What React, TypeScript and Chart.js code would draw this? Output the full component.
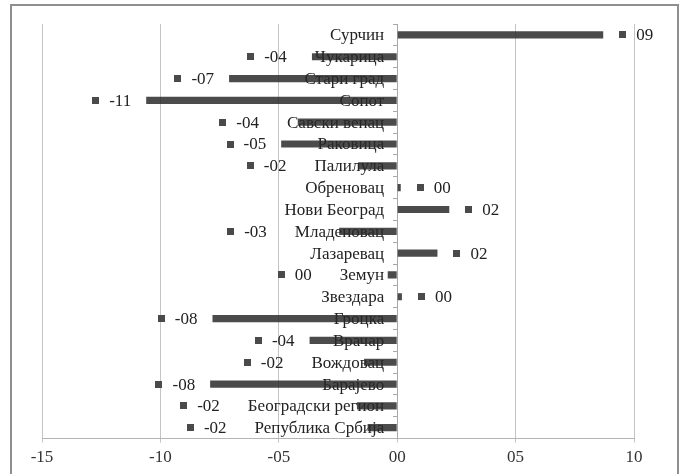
import React, { useEffect, useRef } from "react";
import { Chart, registerables } from "chart.js";

Chart.register(...registerables);

const categories: string[] = [
  "Сурчин",
  "Чукарица",
  "Стари град",
  "Сопот",
  "Савски венац",
  "Раковица",
  "Палилула",
  "Обреновац",
  "Нови Београд",
  "Младеновац",
  "Лазаревац",
  "Земун",
  "Звездара",
  "Гроцка",
  "Врачар",
  "Вождовац",
  "Барајево",
  "Београдски регион",
  "Република Србија",
];

const values: number[] = [
  8.7, -3.6, -7.1, -10.6, -4.2, -4.9, -1.65, 0.15, 2.2, -2.45, 1.7, -0.4, 0.2,
  -7.8, -3.7, -1.4, -7.9, -1.7, -1.25,
];

const dataLabels: string[] = [
  "09", "-04", "-07", "-11", "-04", "-05", "-02", "00", "02", "-03", "02", "00",
  "00", "-08", "-04", "-02", "-08", "-02", "-02",
];

const xTickValues: number[] = [-15, -10, -5, 0, 5, 10];
const xTickLabels: string[] = ["-15", "-10", "-05", "00", "05", "10"];

const FONT_FAMILY = '"Liberation Serif", "Times New Roman", serif';
const FONT_SIZE = 17;
const BAR_COLOR = "rgba(40,40,40,0.84)";
const MARKER_COLOR = "#4a4a4a";
const TEXT_COLOR = "#222222";
const Y_TICK_LEN = 4;
const Y_LABEL_GAP = 13;

// Category labels drawn next to the zero line (before bars, so bars overlay them)
const categoryLabelPlugin = {
  id: "categoryLabels",
  beforeDatasetsDraw(chart: any) {
    const ctx = chart.ctx;
    const zeroX = chart.scales.x.getPixelForValue(0);
    const yScale = chart.scales.y;
    ctx.save();
    ctx.font = `${FONT_SIZE}px ${FONT_FAMILY}`;
    ctx.textBaseline = "middle";
    ctx.textAlign = "right";
    ctx.fillStyle = TEXT_COLOR;
    categories.forEach((c, i) => {
      ctx.fillText(c, zeroX - Y_LABEL_GAP, yScale.getPixelForValue(i) + 1);
    });
    ctx.restore();
  },
};

const valueLabelPlugin = {
  id: "valueLabels",
  afterDatasetsDraw(chart: any) {
    const ctx = chart.ctx;
    const meta = chart.getDatasetMeta(0);
    const zeroX = chart.scales.x.getPixelForValue(0);
    ctx.save();
    ctx.font = `${FONT_SIZE}px ${FONT_FAMILY}`;
    ctx.textBaseline = "middle";
    ctx.textAlign = "left";
    meta.data.forEach((bar: any, i: number) => {
      const v = values[i];
      const txt = dataLabels[i];
      const tw = ctx.measureText(txt).width;
      const y = bar.y;
      let markerX: number;
      let textX: number;
      if (v >= 0) {
        markerX = bar.x + 16;
        textX = markerX + 7 + 10;
      } else {
        const catW = ctx.measureText(categories[i]).width;
        const catLeft = zeroX - Y_LABEL_GAP - catW;
        const right = Math.min(bar.x - 15, catLeft - 28);
        textX = right - tw;
        markerX = textX - 10 - 7;
      }
      ctx.fillStyle = MARKER_COLOR;
      ctx.fillRect(Math.round(markerX), Math.round(y - 3.5), 7, 7);
      ctx.fillStyle = TEXT_COLOR;
      ctx.fillText(txt, textX, y + 1);
    });
    ctx.restore();
  },
};

export default function App() {
  const canvasRef = useRef<HTMLCanvasElement | null>(null);

  useEffect(() => {
    if (!canvasRef.current) return;
    const chart = new Chart(canvasRef.current, {
      type: "bar",
      data: {
        labels: categories,
        datasets: [
          {
            data: values,
            backgroundColor: BAR_COLOR,
            borderWidth: 0,
            barPercentage: 0.33,
            categoryPercentage: 1,
          },
        ],
      },
      options: {
        indexAxis: "y",
        animation: false,
        responsive: false,
        maintainAspectRatio: false,
        layout: { padding: { left: 42, right: 53, top: 24, bottom: 1 } },
        plugins: {
          legend: { display: false },
          tooltip: { enabled: false },
        },
        scales: {
          x: {
            type: "linear",
            min: -15,
            max: 10,
            afterBuildTicks: (scale: any) => {
              scale.ticks = xTickValues.map((v) => ({ value: v }));
            },
            grid: {
              color: "#c4c4c4",
              lineWidth: 1,
              drawTicks: true,
              tickLength: 4,
            },
            border: { display: true, color: "#b4b4b4" },
            ticks: {
              padding: 5,
              color: "#333333",
              font: { family: FONT_FAMILY, size: FONT_SIZE },
              callback: (_v: any, idx: number) => xTickLabels[idx],
            },
          },
          y: {
            type: "category",
            position: { x: 0 } as any,
            grid: {
              drawOnChartArea: false,
              drawTicks: true,
              tickLength: Y_TICK_LEN,
              color: "#a8a8a8",
              offset: true,
            },
            border: { display: true, color: "#a8a8a8" },
            ticks: {
              display: false,
              autoSkip: false,
            },
          },
        },
      },
      plugins: [categoryLabelPlugin, valueLabelPlugin],
    } as any);
    return () => chart.destroy();
  }, []);

  return (
    <div
      style={{
        position: "fixed",
        left: 0,
        top: 0,
        width: 687,
        height: 474,
        background: "#ffffff",
        overflow: "hidden",
      }}
    >
      <div
        style={{
          position: "absolute",
          left: 10,
          top: 4,
          width: 669,
          height: 490,
          border: "2px solid #8f8f8f",
          boxSizing: "border-box",
        }}
      />
      <canvas
        ref={canvasRef}
        width={687}
        height={474}
        style={{ position: "absolute", left: 0, top: 0, width: 687, height: 474 }}
      />
    </div>
  );
}
